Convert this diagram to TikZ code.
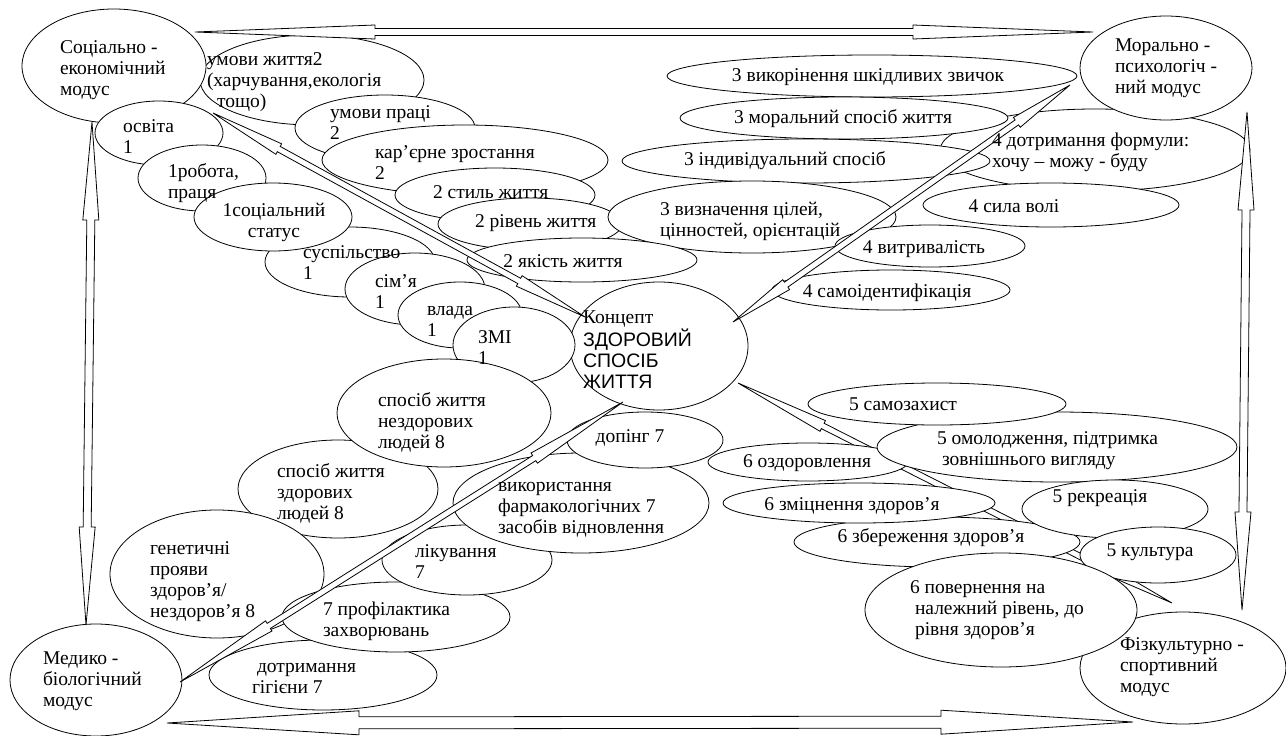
\documentclass[tikz,border=0pt]{standalone}
\usepackage{fontspec}
\setmainfont{Liberation Serif}
\newfontfamily\serifF{Liberation Serif}
\newfontfamily\sansf{Liberation Sans}
\usetikzlibrary{shapes.geometric,calc}
\newcommand\dblarrow[5]{%
  \path[blockarr] (#1)
   -- ($(#1)!#5!(#2)!#4!90:(#2)$)
   -- ($(#1)!#5!(#2)!#3!90:(#2)$)
   -- ($(#2)!#5!(#1)!#3!-90:(#1)$)
   -- ($(#2)!#5!(#1)!#4!-90:(#1)$)
   -- (#2)
   -- ($(#2)!#5!(#1)!#4!90:(#1)$)
   -- ($(#2)!#5!(#1)!#3!90:(#1)$)
   -- ($(#1)!#5!(#2)!#3!-90:(#2)$)
   -- ($(#1)!#5!(#2)!#4!-90:(#2)$)
   -- cycle;}
\newcommand\ovl[5]{\node[oval, minimum width=2*#4pt, minimum height=2*#5pt] (#1) at (#2,#3) {};}
\begin{document}
\begin{tikzpicture}[x=1pt,y=-1pt,
  oval/.style={ellipse, draw, fill=white, line width=0.8pt, inner sep=0pt, outer sep=0pt},
  txt/.style={inner sep=0pt, outer sep=0pt, align=left, font=\serifF\fontsize{19.5}{21}\selectfont},
  blockarr/.style={draw, fill=white, line width=0.8pt, line join=miter}]
\useasboundingbox[fill=white] (0,0) rectangle (1286,736);

% arrow behind bottom-right cluster
\coordinate (a3s) at (738,383);
\coordinate (a3e) at (1172,603);
\dblarrow{a3s}{a3e}{3pt}{6pt}{95pt}

% top-left cluster
\ovl{umzh}{312}{80}{112}{45}
\ovl{soc}{114}{66}{92}{57}
\ovl{osv}{159}{133}{64}{32}
\ovl{umpr}{385}{128}{90}{33}
\ovl{kar}{465}{160}{143}{35}
\ovl{rob}{202}{178}{64}{33}
\ovl{suspil}{350}{262}{85}{35}
\ovl{stat}{273}{217}{79}{34}
\ovl{styl}{495}{195}{100}{27}
\ovl{riv}{530}{224}{92}{26}
\ovl{sim}{415}{289}{70}{36}
\ovl{vlada}{460}{315}{62}{33}
\ovl{concept}{659}{346}{89}{64}
\ovl{zmi}{514}{345}{61}{38}
% top-right cluster
\ovl{dotr}{1095}{150}{155}{41}
\ovl{vykor}{872}{76}{205}{21}
\ovl{moral}{844}{118}{164}{21}
\ovl{indyv}{806}{161}{184}{22}
\ovl{vyzn}{752}{217}{144}{36}
\ovl{yakist}{582}{260}{115}{22}
\ovl{morpsy}{1166}{68}{86}{52}
\ovl{syla}{1051}{205}{128}{22}
\ovl{vytr}{930}{246}{95}{21}
\ovl{samoid}{891}{290}{119}{20}
% bottom-right cluster
\ovl{ozdor}{808}{462}{100}{19}
\ovl{omol}{1057}{447}{180}{35}
\ovl{samozah}{937}{404}{129}{21}
\ovl{zber}{937}{542}{143}{25}
\ovl{zmits}{859}{503}{136}{20}
\ovl{rekr}{1115}{509}{93}{29}
\ovl{kult}{1158}{555}{78}{28}
\ovl{fiz}{1183}{668}{103}{56}
\ovl{povern}{1001}{610}{136}{57}
% bottom-left cluster
\ovl{zdor}{338}{489}{100}{49}
\ovl{nezdor}{444}{413}{107}{54}
\ovl{genet}{217}{574}{107}{64}
\ovl{gig}{323}{675}{114}{35}
\ovl{profil}{396}{617}{114}{35}
\ovl{likuv}{467}{560}{85}{35}
\ovl{farm}{581}{503}{128}{50}
\ovl{doping}{645}{440}{78}{28}
\ovl{med}{96}{680}{86}{56}

% thin arrows
\coordinate (a1s) at (213,113);
\coordinate (a1e) at (585,317);
\dblarrow{a1s}{a1e}{3pt}{6pt}{75pt}
\coordinate (a2s) at (733,322);
\coordinate (a2e) at (1070,85);
\dblarrow{a2s}{a2e}{3pt}{6pt}{65pt}
\coordinate (a4s) at (623,402);
\coordinate (a4e) at (180,682);
\dblarrow{a4s}{a4e}{3pt}{6pt}{105pt}

% peripheral arrows
\coordinate (ptl) at (195,32);
\coordinate (ptr) at (1093,32);
\dblarrow{ptl}{ptr}{3.5pt}{7pt}{180pt}
\coordinate (plt) at (92,122);
\coordinate (plb) at (86,625);
\dblarrow{plt}{plb}{4pt}{8pt}{98pt}
\coordinate (prt) at (1247,112);
\coordinate (prb) at (1242,610);
\dblarrow{prt}{prb}{4pt}{8pt}{98pt}
\coordinate (pbl) at (167,723);
\coordinate (pbr) at (1133,722);
\dblarrow{pbl}{pbr}{6pt}{12pt}{192pt}

% texts (base = baseline of last line)
\node[txt, anchor=base west] (t-soc) at (60,95) {Соціально -\\економічний\\модус};
\node[txt, anchor=base west] (t-umzh) at (207,107) {умови життя2\\(харчування,екологія\\\hspace*{10pt}тощо)};
\node[txt, anchor=base west] (t-osv) at (123,153) {освіта\\1};
\node[txt, anchor=base west] (t-umpr) at (330,139) {умови праці\\2};
\node[txt, anchor=base west] (t-kar) at (375,179) {кар’єрне зростання\\2};
\node[txt, anchor=base west] (t-rob) at (168,198) {1робота,\\праця};
\node[txt, anchor=base, align=center] (t-stat) at (274,237) {1соціальний\\статус};
\node[txt, anchor=base west] (t-styl) at (433,198) {2 стиль життя};
\node[txt, anchor=base west] (t-riv) at (475,227) {2 рівень життя};
\node[txt, anchor=base west] (t-suspil) at (303,279) {суспільство\\1};
\node[txt, anchor=base west] (t-sim) at (375,308) {сім’я\\1};
\node[txt, anchor=base west] (t-vlada) at (427,336) {влада\\1};
\node[txt, anchor=base west] (t-zmi) at (478,364) {ЗМІ\\1};
\node[txt, anchor=base] (t-yakist) at (563,267) {2 якість життя};
\node[txt, anchor=base west] (t-vyzn) at (660,236) {3 визначення цілей,\\цінностей, орієнтацій};
\node[txt, anchor=base] (t-vykor) at (868,81) {3 викорінення шкідливих звичок};
\node[txt, anchor=base] (t-moral) at (843,123) {3 моральний спосіб життя};
\node[txt, anchor=base] (t-indyv) at (785,165) {3 індивідуальний спосіб};
\node[txt, anchor=base west] (t-dotr) at (992,167) {4 дотримання формули:\\хочу – можу - буду};
\node[txt, anchor=base] (t-syla) at (1014,212) {4 сила волі};
\node[txt, anchor=base] (t-vytr) at (924,253) {4 витривалість};
\node[txt, anchor=base] (t-samoid) at (887,297) {4 самоідентифікація};
\node[txt, anchor=base west] (t-concept) at (583,388) {Концепт\\{\sansf ЗДОРОВИЙ}\\{\sansf СПОСІБ}\\{\sansf ЖИТТЯ}};
\node[txt, anchor=base west] (t-morpsy) at (1115,93) {Морально -\\психологіч -\\ний  модус};
\node[txt, anchor=base] (t-samozah) at (903,410) {5 самозахист};
\node[txt, anchor=base west] (t-omol) at (937,465) {5 омолодження, підтримка\\\hspace*{5pt}зовнішнього вигляду};
\node[txt, anchor=base west] (t-ozdor) at (743,467) {6 оздоровлення};
\node[txt, anchor=base] (t-zmits) at (852,510) {6 зміцнення здоров’я};
\node[txt, anchor=base] (t-rekr) at (1100,502) {5 рекреація};
\node[txt, anchor=base] (t-zber) at (931,542) {6 збереження здоров’я};
\node[txt, anchor=base] (t-kult) at (1150,556) {5 культура};
\node[txt, anchor=base west] (t-povern) at (910,635) {6 повернення на\\\hspace*{5pt}належний рівень, до\\\hspace*{5pt}рівня здоров’я};
\node[txt, anchor=base west] (t-fiz) at (1120,692) {Фізкультурно -\\спортивний\\модус};
\node[txt, anchor=base west] (t-med) at (43,706) {Медико -\\біологічний\\модус};
\node[txt, anchor=base west] (t-genet) at (150,617) {генетичні\\прояви\\здоров’я/\\нездоров’я 8};
\node[txt, anchor=base west] (t-zdor) at (277,519) {спосіб життя\\здорових\\людей 8};
\node[txt, anchor=base west] (t-nezdor) at (378,448) {спосіб життя\\нездорових\\людей 8};
\node[txt, anchor=base] (t-doping) at (630,442) {допінг 7};
\node[txt, anchor=base west] (t-farm) at (498,533) {використання\\фармакологічних 7\\засобів відновлення};
\node[txt, anchor=base west] (t-likuv) at (415,578) {лікування\\7};
\node[txt, anchor=base west] (t-profil) at (323,636) {7 профілактика\\захворювань};
\node[txt, anchor=base west] (t-gig) at (257,693) {дотримання\\\hspace*{-5pt}гігієни 7};
\end{tikzpicture}
\end{document}
